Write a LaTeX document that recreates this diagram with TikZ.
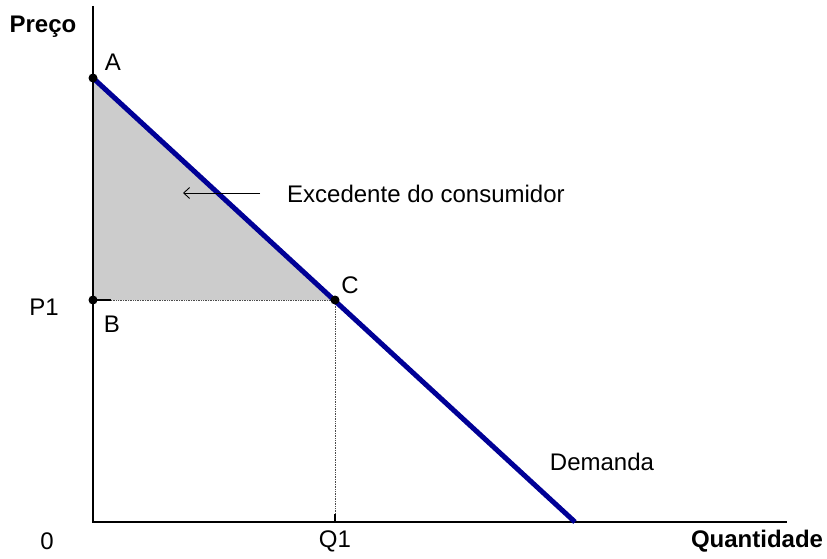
\documentclass[tikz,border=0pt]{standalone}
\usepackage{fontspec}
\setmainfont{Liberation Sans}
\usepackage{tikz}
\usetikzlibrary{arrows.meta}

\definecolor{demblue}{RGB}{0,0,150}
\definecolor{surplus}{RGB}{204,204,204}

\begin{document}
\begin{tikzpicture}[x=1pt,y=-1pt,
    lbl/.style={font=\fontsize{24}{28}\selectfont,inner sep=0pt},
    axlbl/.style={lbl,font=\fontsize{24}{28}\selectfont\bfseries},
    guide/.style={densely dotted,line width=0.7pt,black!70}]
\useasboundingbox (0,0) rectangle (827,559);
\coordinate (O) at (93,522);
\coordinate (Ytop) at (93,6);
\coordinate (Xend) at (787,522);
\coordinate (A) at (93,78);
\coordinate (B) at (93,300);
\coordinate (Bt) at (111,300);
\coordinate (C) at (335,300);
\coordinate (Q) at (335,522);
\coordinate (Qt) at (335,514);
\coordinate (D) at (575,522);
% area
\fill[surplus] (A) -- (C) -- (B) -- cycle;
\draw[guide] (Bt) -- (C) -- (Qt);
\draw[line width=1.6pt] (B) -- (Bt);
\draw[line width=1.6pt] (Qt) -- (Q);
% axes
\draw[line width=1.8pt] (Ytop) -- (O) -- (Xend);
\draw[demblue,line width=5pt] (A) -- (D);
\foreach \p in {A,B,C}
    \fill (\p) circle (4.5pt);
% labels
\node[axlbl] (preco) at (43,27) {Preço};
\node[axlbl] (quant) at (757,541) {Quantidade};
\node[lbl] (la) at (113,62) {A};
\node[lbl] (lb) at (112,324) {B};
\node[lbl] (lc) at (350,285) {C};
\node[lbl] (p1) at (44,307) {P1};
\node[lbl] (zero) at (47,541) {0};
\node[lbl] (q1) at (335,541) {Q1};
\node[lbl] (dem) at (602,462) {Demanda};
\node[lbl,anchor=west] (exc) at (287,194) {Excedente do consumidor};
\coordinate (arrS) at (260,193);
\coordinate (arrE) at (183,193);
\draw[-{Straight Barb[length=6pt,width=11pt]},line width=0.9pt] (arrS) -- (arrE);
\end{tikzpicture}
\end{document}
